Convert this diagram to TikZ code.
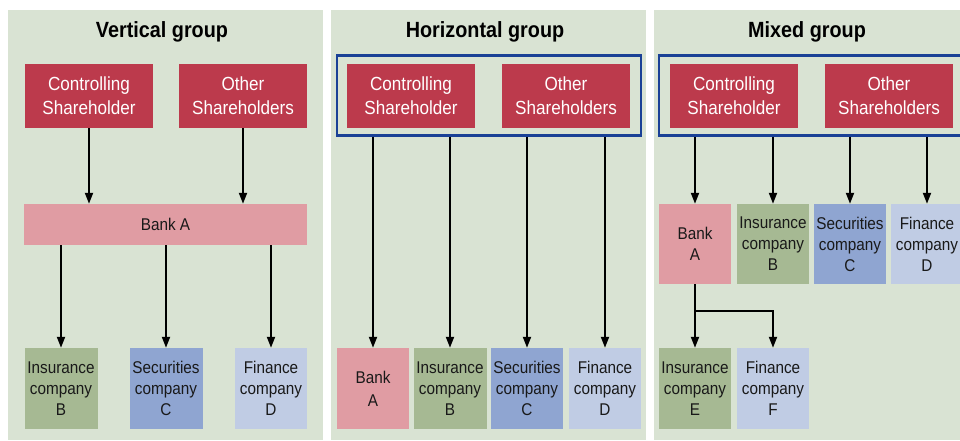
\documentclass[tikz,border=0pt]{standalone}
\usepackage{xcolor}
\usepackage{fontspec}
\setmainfont[FakeStretch=0.9]{Liberation Sans}
\usepackage{tikz}
\usetikzlibrary{positioning,calc,arrows.meta}
\definecolor{panelbg}{HTML}{D9E3D3}
\definecolor{ownred}{HTML}{BC3A4C}
\definecolor{bankpink}{HTML}{E09CA3}
\definecolor{insgreen}{HTML}{A6B993}
\definecolor{secblue}{HTML}{8FA5D1}
\definecolor{finblue}{HTML}{C0CCE4}
\definecolor{framebl}{HTML}{1A4196}

\begin{document}
\begin{tikzpicture}[x=1pt, y=-1pt,
        panel/.style={fill=panelbg, draw=none},
        title/.style={font=\fontsize{22}{26}\selectfont\bfseries, text=black},
        owner/.style={rectangle, fill=ownred, text=white, minimum width=128pt, minimum height=64pt, inner sep=0pt, align=center, font=\fontsize{19}{24}\selectfont},
        firm/.style={rectangle, text=black!90, minimum width=72pt, minimum height=81pt, inner sep=0pt, align=center, font=\fontsize{17}{21}\selectfont},
        topfirm/.style={firm, minimum height=80pt},
        frame/.style={rectangle, draw=framebl, line width=2.5pt, inner sep=0pt},
        arrow/.style={-{Triangle[width=8pt,length=11pt]}, line width=2pt},
      ]
      \useasboundingbox (0,0) rectangle (960,440);
      \fill[white] (0,0) rectangle (960,440);
      \fill[panel] (8,10) rectangle (323,440);
      \fill[panel] (331,10) rectangle (646,440);
      \fill[panel] (654,10) rectangle (960,440);

      \node [title] (titleV) at (162,32) {Vertical group};
      \node [owner] (ctrlV) at (89,96) {Controlling\\Shareholder};
      \node [owner] (otherV) at (243,96) {Other\\Shareholders};
      \node [firm, fill=bankpink, minimum width=283pt, minimum height=41pt] (bankV) at (165.5,224.5) {Bank A};
      \node [firm, fill=insgreen, minimum width=73pt] (insV) at (61,388.5) {Insurance\\company\\B};
      \node [firm, fill=secblue, minimum width=73pt] (secV) at (166,388.5) {Securities\\company\\C};
      \node [firm, fill=finblue] (finV) at (271,388.5) {Finance\\company\\D};
      \draw [arrow] (ctrlV) -- (ctrlV |- bankV.north);
      \draw [arrow] (otherV) -- (otherV |- bankV.north);
      \draw [arrow] (bankV.south -| insV) -- (insV);
      \draw [arrow] (bankV.south -| secV) -- (secV);
      \draw [arrow] (bankV.south -| finV) -- (finV);

      \node [title] (titleH) at (485,32) {Horizontal group};
      \node [frame, minimum width=304pt, minimum height=80pt] (frameH) at (489,95.5) {};
      \node [owner] (ctrlH) at (411,96) {Controlling\\Shareholder};
      \node [owner] (otherH) at (566,96) {Other\\Shareholders};
      \node [firm, fill=bankpink] (bankH) at (373,388.5) {Bank\\[2pt]A};
      \node [firm, fill=insgreen, minimum width=73pt] (insH) at (450,388.5) {Insurance\\company\\B};
      \node [firm, fill=secblue] (secH) at (527,388.5) {Securities\\company\\C};
      \node [firm, fill=finblue] (finH) at (605,388.5) {Finance\\company\\D};
      \draw [arrow] (frameH.south -| bankH) -- (bankH);
      \draw [arrow] (frameH.south -| insH) -- (insH);
      \draw [arrow] (frameH.south -| secH) -- (secH);
      \draw [arrow] (frameH.south -| finH) -- (finH);

      \node [title] (titleM) at (807,32) {Mixed group};
      \node [frame, minimum width=321pt, minimum height=80pt] (frameM) at (819.5,95.5) {};
      \node [owner] (ctrlM) at (734,96) {Controlling\\Shareholder};
      \node [owner] (otherM) at (889,96) {Other\\Shareholders};
      \node [topfirm, fill=bankpink] (bankM) at (695,244) {Bank\\A};
      \node [topfirm, fill=insgreen] (insM) at (773,244) {Insurance\\company\\B};
      \node [topfirm, fill=secblue] (secM) at (850,244) {Securities\\company\\C};
      \node [topfirm, fill=finblue] (finM) at (927,244) {Finance\\company\\D};
      \node [firm, fill=insgreen] (insE) at (695,388.5) {Insurance\\company\\E};
      \node [firm, fill=finblue] (finF) at (773,388.5) {Finance\\company\\F};
      \coordinate (forkM) at (695,311);
      \draw [arrow] (frameM.south -| bankM) -- (bankM);
      \draw [arrow] (frameM.south -| insM) -- (insM);
      \draw [arrow] (frameM.south -| secM) -- (secM);
      \draw [arrow] (frameM.south -| finM) -- (finM);
      \draw [arrow] (bankM) -- (insE);
      \draw [arrow] (forkM) -| (finF);
    \end{tikzpicture}
\end{document}
